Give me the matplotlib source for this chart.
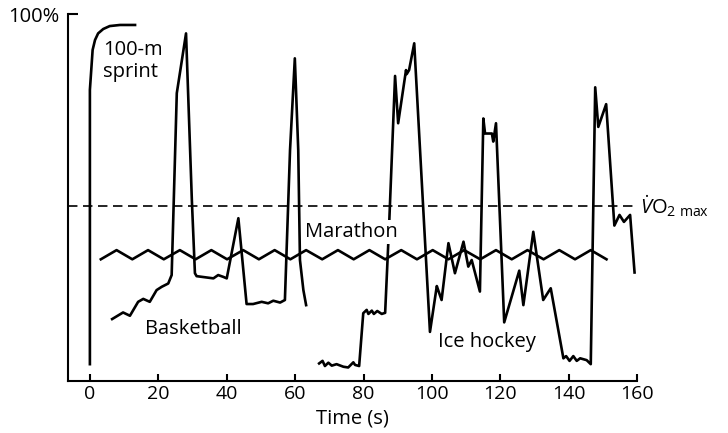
import matplotlib
matplotlib.use("Agg")
import matplotlib.pyplot as plt

plt.rcParams['font.family'] = ['Open Sans', 'DejaVu Sans']
plt.rcParams['mathtext.fontset'] = 'custom'
plt.rcParams['mathtext.rm'] = 'Open Sans'
plt.rcParams['mathtext.it'] = 'Open Sans:italic'
plt.rcParams['lines.scale_dashes'] = False

# ---- data (time in s, intensity in % of max) ----
sprint_t = [0, 0, 0.8, 1.5, 2.4, 3.9, 5.8, 8.8, 13.2]
sprint_y = [4.6, 79.4, 90.3, 93.0, 94.8, 96.0, 96.8, 97.1, 97.1]

basket_t = [6.5, 9.7, 11.7, 14.1, 15.6, 17.5, 19.5, 21.0, 22.9, 23.9, 25.4, 28.1,
            29.8, 30.7, 31.2, 36.1, 37.5, 39.0, 40.0, 43.4, 45.8, 47.7, 50.2, 52.1,
            53.6, 55.6, 57.0, 58.5, 59.9, 60.9, 61.4, 62.4, 63.2]
basket_y = [16.9, 18.7, 17.8, 21.6, 22.4, 21.6, 24.8, 25.7, 26.6, 28.9, 78.5, 94.8,
            49.4, 29.4, 28.6, 28.0, 28.9, 28.4, 28.0, 44.4, 21.0, 21.0, 21.6, 21.2,
            21.9, 21.4, 22.1, 63.0, 88.0, 63.0, 33.0, 24.8, 20.7]

marathon_t = [3.2, 7.8, 12.4, 17.0, 21.6, 26.3, 30.9, 35.5, 40.1, 44.8, 49.4, 54.0,
              58.6, 63.2, 67.9, 72.5, 77.1, 81.7, 86.3, 91.0, 95.6, 100.2, 104.8,
              109.4, 114.1, 118.7, 123.3, 127.9, 132.6, 137.2, 141.8, 146.4, 151.0]
marathon_y = [33.2, 35.7, 33.2, 35.7, 33.2, 35.7, 33.2, 35.7, 33.2, 35.7, 33.2, 35.7,
              33.2, 35.7, 33.2, 35.7, 33.2, 35.7, 33.2, 35.7, 33.2, 35.7, 33.2,
              35.7, 33.2, 35.7, 33.2, 35.7, 33.2, 35.7, 33.2, 35.7, 33.2]

hockey_t = [67.0, 68.0, 68.7, 69.7, 70.7, 72.1, 74.1, 75.5, 77.0, 77.5, 78.7, 79.9,
            80.9, 81.4, 82.4, 83.0, 84.0, 85.3, 86.3, 87.5, 89.2, 90.1, 92.4, 92.6,
            93.3, 94.8, 99.4, 101.4, 101.8, 102.8, 104.8, 106.7, 109.2, 110.6, 111.6,
            114.0, 115.0, 115.5, 117.5, 117.9, 118.7, 121.1, 125.5, 126.7, 129.6,
            132.5, 134.7, 138.4, 139.2, 140.2, 141.3, 142.3, 143.3, 145.2, 146.4,
            147.7, 148.6, 150.9, 153.3, 154.8, 156.1, 157.9, 159.2]
hockey_y = [4.8, 5.5, 4.1, 5.0, 4.2, 4.6, 3.9, 3.7, 5.1, 4.4, 4.1, 18.5,
            19.4, 18.3, 19.2, 18.3, 19.1, 18.3, 18.6, 43.4, 83.2, 70.3, 84.8, 83.7,
            84.8, 92.1, 13.4, 25.9, 24.8, 22.1, 37.6, 29.4, 38.0, 31.2, 33.0,
            24.4, 71.6, 67.5, 67.5, 65.3, 70.3, 16.0, 30.1, 20.7, 40.7,
            22.1, 25.3, 6.2, 6.8, 5.5, 6.8, 5.5, 6.2, 5.7, 4.6,
            80.1, 69.3, 75.5, 42.4, 45.3, 43.4, 45.3, 29.6]

vo2max = 47.7
xticks = [0, 20, 40, 60, 80, 100, 120, 140, 160]

# ---- figure ----
fig = plt.figure(figsize=(7.28, 4.33), dpi=100)
ax = fig.add_axes([0.0934, 0.120, 0.782, 0.8469])

lw = 1.9
ax.plot(sprint_t, sprint_y, color='black', lw=lw, zorder=3)
ax.plot(basket_t, basket_y, color='black', lw=lw, zorder=3)
ax.plot(marathon_t, marathon_y, color='black', lw=lw, zorder=3)
ax.plot(hockey_t, hockey_y, color='black', lw=lw, zorder=3)
ax.axhline(vo2max, xmin=0, xmax=0.996, color='black', lw=1.2, dashes=(6.8, 4.0), zorder=2)

fs = 14.5
tfs = 14
ax.text(3.8, 87.2, '100-m\nsprint', fontsize=fs, ha='left', va='center', linespacing=1.15)
ax.text(16.1, 14.2, 'Basketball', fontsize=fs, ha='left', va='center')
ax.text(62.9, 40.6, 'Marathon', fontsize=fs, ha='left', va='center', zorder=5,
        bbox=dict(facecolor='white', edgecolor='none', pad=1.5))
ax.text(101.8, 10.6, 'Ice hockey', fontsize=fs, ha='left', va='center')
ax.text(160.8, vo2max, r'$\dot{V}\mathrm{O}_{2\ \mathrm{max}}$', fontsize=fs,
        ha='left', va='center', clip_on=False)

ax.set_xlim(-6.4, 160)
ax.set_ylim(0, 100)
ax.spines['top'].set_visible(False)
ax.spines['right'].set_visible(False)
ax.spines['left'].set_linewidth(1.5)
ax.spines['bottom'].set_linewidth(1.5)
ax.set_xticks(xticks)
ax.set_xticklabels([str(v) for v in xticks], fontsize=tfs)
ax.set_yticks([100])
ax.set_yticklabels(['100%'], fontsize=tfs + 0.5)
ax.tick_params(axis='x', direction='in', length=5, width=1.5, pad=3)
ax.tick_params(axis='y', direction='in', length=7, width=1.5, pad=6)
ax.set_xlabel('Time (s)', fontsize=fs, labelpad=4)

fig.savefig('out.png', dpi=100)
